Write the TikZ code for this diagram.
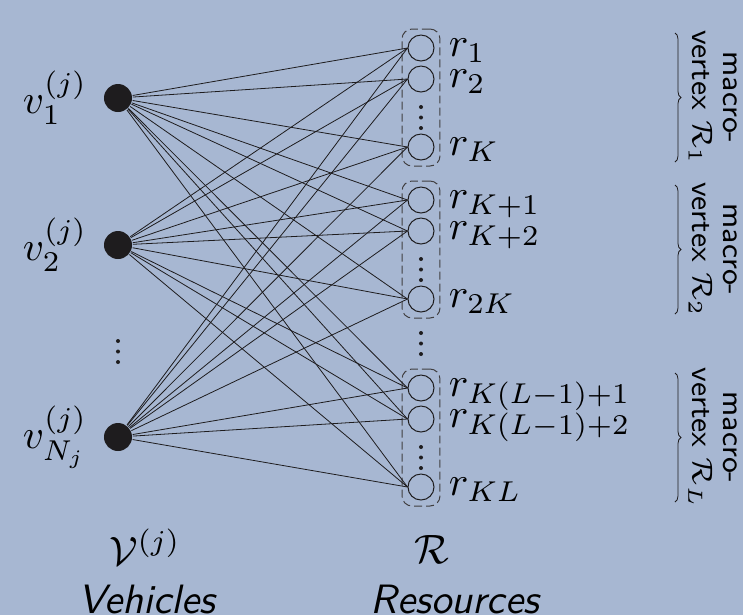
\documentclass[tikz,border=0pt]{standalone}
\usetikzlibrary{decorations.pathreplacing,fit}
\definecolor{bg}{RGB}{167,183,210}
\definecolor{ink}{RGB}{30,28,30}
\begin{document}
\begin{tikzpicture}[x=0.2439pt,y=-0.2439pt,
  vehicle/.style={circle,fill=ink,minimum size=6.83pt,inner sep=0pt},
  resource/.style={circle,draw=ink,line width=0.244pt,minimum size=6.34pt,inner sep=0pt},
  link/.style={draw=ink,line width=0.195pt},
  group/.style={draw=ink!85,dash pattern=on 1.95pt off 0.98pt,rounded corners=2.44pt,line width=0.244pt,inner sep=1.34pt},
  lbl/.style={inner sep=0pt,font=\fontsize{10}{11}\selectfont},
  side/.style={rotate=-90,align=center,inner sep=0pt,font=\fontsize{7.3}{7.6}\selectfont\sffamily},
  bracket/.style={draw=ink,line width=0.195pt,decorate,decoration={brace,amplitude=1.46pt}},
  dotmark/.style={circle,fill=ink,minimum size=0.98pt,inner sep=0pt}
]
\fill[bg] (0,0) rectangle (743,615);
\useasboundingbox (0,0) rectangle (743,615);

% vehicles
\node[vehicle] (v1) at (118,98) {};
\node[vehicle] (v2) at (118,245) {};
\node[vehicle] (vN) at (118,437) {};
\node[lbl,anchor=east] (lv1) at (88,98) {$v_1^{(j)}$};
\node[lbl,anchor=east] (lv2) at (88,245) {$v_2^{(j)}$};
\node[lbl,anchor=east] (lvN) at (88,437) {$v_{N_j}^{(j)}$};
\foreach \y [count=\i] in {341,351.5,362}
  \node[dotmark] (vd\i) at (118,\y) {};

% resources, one macro-vertex per group
\foreach \g/\b in {1/48,2/200,3/388} {
  \node[resource] (ra\g) at (421,\b) {};
  \node[resource] (rb\g) at (421,\b+31) {};
  \node[resource] (rc\g) at (421,\b+99) {};
  \foreach \d [count=\i] in {59,69.5,80}
    \node[dotmark] (gd\g\i) at (421,\b+\d) {};
  \node[group,fit=(ra\g)(rc\g)] (box\g) {};
  \draw[bracket] (675,\b-15) -- (675,\b+114);
}
\foreach \y [count=\i] in {333,343.5,354}
  \node[dotmark] (rd\i) at (421,\y) {};

% resource labels
\node[lbl,anchor=base west] (la1) at (448,56) {$r_1$};
\node[lbl,anchor=base west] (lb1) at (448,87) {$r_2$};
\node[lbl,anchor=base west] (lc1) at (448,155) {$r_K$};
\node[lbl,anchor=base west] (la2) at (448,208) {$r_{K+1}$};
\node[lbl,anchor=base west] (lb2) at (448,239) {$r_{K+2}$};
\node[lbl,anchor=base west] (lc2) at (448,307) {$r_{2K}$};
\node[lbl,anchor=base west] (la3) at (448,396) {$r_{K(L-1)+1}$};
\node[lbl,anchor=base west] (lb3) at (448,427) {$r_{K(L-1)+2}$};
\node[lbl,anchor=base west] (lc3) at (448,495) {$r_{KL}$};

% macro-vertex captions
\node[side] (m1) at (713,97.5) {macro-\\vertex $\mathcal{R}_1$};
\node[side] (m2) at (713,249.5) {macro-\\vertex $\mathcal{R}_2$};
\node[side] (m3) at (713,437.5) {macro-\\vertex $\mathcal{R}_L$};

% complete bipartite connections
\foreach \v in {v1,v2,vN}
  \foreach \r in {ra1,rb1,rc1,ra2,rb2,rc2,ra3,rb3,rc3}
    \draw[link] (\v) -- (\r.west);

% column captions
\node[lbl,anchor=base] (cv) at (145,565) {$\mathcal{V}^{(j)}$};
\node[lbl,anchor=base] (cr) at (432,563) {$\mathcal{R}$};
\node[lbl,anchor=base,font=\fontsize{10}{11}\selectfont\sffamily\itshape] (tv) at (147,613) {Vehicles};
\node[lbl,anchor=base,font=\fontsize{10}{11}\selectfont\sffamily\itshape] (tr) at (455,613) {Resources};
\end{tikzpicture}
\end{document}
